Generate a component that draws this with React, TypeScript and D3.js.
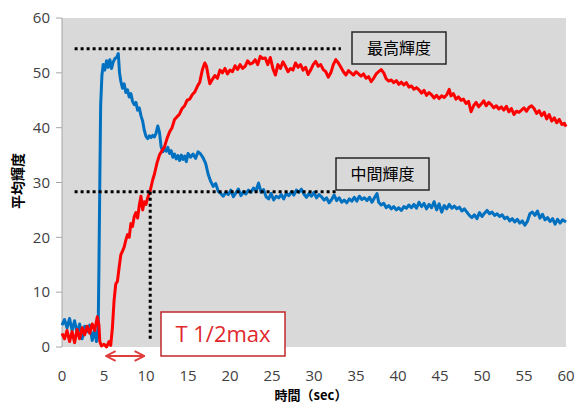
import React from "react";
import * as d3 from "d3";

const W = 577;
const H = 403;

const xTicks = [0, 5, 10, 15, 20, 25, 30, 35, 40, 45, 50, 55, 60];
const yTicks = [0, 10, 20, 30, 40, 50, 60];

const maxLevel = 54.4;
const midLevel = 28.3;
const tHalf = 10.5;
const maxLineEnd = 33.2;
const midLineEnd = 32.7;
const refLineStart = 1.5;

const labelMax = "最高輝度";
const labelMid = "中間輝度";
const labelT = "T 1/2max";
const yTitle = "平均輝度";
const xTitle = "時間（sec）";

const redT = [0,0.3,0.6,0.9,1.2,1.5,1.8,2.1,2.4,2.7,3.0,3.3,3.6,3.9,4.2,4.4,4.5,4.7,5.0,5.3,5.6,5.8,6.0,6.2,6.4,6.6,6.8,7.0,7.2,7.4,7.6,7.8,8.0,8.2,8.4,8.6,8.8,9.0,9.2,9.4,9.6,9.8,10.0,10.2,10.5,10.8,11.0,11.3,11.6,11.9,12.2,12.5,12.8,13.1,13.4,13.7,14.0,14.3,14.6,14.9,15.2,15.5,15.8,16.1,16.4,16.7,17.0,17.2,17.4,17.6,17.9,18.2,18.5,18.8,19.1,19.4,19.7,20.0,20.3,20.6,20.9,21.2,21.5,21.8,22.1,22.4,22.7,23.0,23.3,23.6,23.9,24.2,24.5,24.8,25.1,25.4,25.7,26.0,26.3,26.6,26.9,27.2,27.5,27.8,28.1,28.4,28.7,29.0,29.3,29.6,29.9,30.2,30.5,30.8,31.1,31.4,31.7,32.0,32.3,32.6,32.9,33.2,33.5,33.8,34.1,34.4,34.7,35.0,35.3,35.6,35.9,36.2,36.5,36.8,37.1,37.4,37.7,38.0,38.3,38.6,38.9,39.2,39.5,39.8,40.1,40.4,40.7,41.0,41.3,41.6,41.9,42.2,42.5,42.8,43.1,43.4,43.7,44.0,44.3,44.6,44.9,45.2,45.5,45.8,46.1,46.3,46.6,46.9,47.2,47.5,47.8,48.1,48.4,48.7,49.0,49.3,49.6,49.9,50.2,50.5,50.8,51.1,51.4,51.7,52.0,52.3,52.6,52.9,53.2,53.5,53.8,54.1,54.4,54.7,55.0,55.3,55.6,55.9,56.2,56.5,56.8,57.1,57.4,57.7,58.0,58.3,58.6,58.9,59.2,59.5,59.8,60];
const redV = [2.5,1.5,3.0,1.0,2.8,0.8,3.2,1.5,3.5,2.2,3.8,2.5,4.2,3.0,5.5,4.0,1.0,0.2,0.5,0.0,1.0,0.3,3.5,8.5,11.5,12.0,14.5,16.8,17.5,18.2,19.5,20.5,20.0,22.5,22.0,23.8,24.5,23.5,25.8,27.5,25.0,26.5,26.0,27.2,28.5,30.5,31.5,33.5,35.0,35.8,36.5,38.0,39.2,40.0,41.5,42.0,42.5,43.5,44.0,45.0,45.2,46.0,46.5,47.5,48.3,50.5,51.8,51.2,49.5,48.0,48.8,49.5,49.0,50.5,50.0,50.8,49.8,50.5,50.2,51.3,50.6,51.5,50.8,51.2,52.2,51.6,51.8,52.4,51.5,53.0,52.6,52.7,51.5,52.8,50.8,49.6,51.5,50.8,52.0,51.2,50.2,50.8,50.5,51.8,51.0,51.5,50.5,51.0,49.7,50.5,51.5,52.1,51.2,51.5,50.6,50.2,49.2,50.0,51.5,52.4,51.8,51.0,50.2,49.6,50.4,50.0,49.6,50.2,49.8,49.4,49.8,49.0,49.3,48.4,49.0,49.8,50.2,50.6,50.0,48.9,48.5,48.7,48.2,48.6,47.9,48.3,47.8,48.2,47.4,47.6,47.0,47.3,46.9,46.3,46.8,45.9,46.4,46.0,45.4,45.9,45.3,45.8,45.5,46.0,47.0,45.8,46.2,45.2,45.6,45.0,45.2,44.4,44.8,42.9,44.0,44.6,43.8,44.3,44.9,44.0,44.6,44.2,43.6,44.0,43.4,43.8,43.2,43.9,42.9,43.5,42.4,43.0,42.8,43.2,43.6,43.0,43.7,44.0,43.5,42.6,43.1,42.2,42.8,41.6,42.4,41.2,41.8,40.9,41.5,40.6,40.8,40.2];

const blueT = [0,0.3,0.6,0.9,1.2,1.5,1.8,2.1,2.4,2.7,3.0,3.3,3.6,3.9,4.1,4.3,4.4,4.5,4.6,4.75,4.9,5.1,5.3,5.5,5.7,5.9,6.1,6.3,6.5,6.7,6.85,7.0,7.2,7.4,7.6,7.8,8.0,8.2,8.4,8.6,8.8,9.0,9.2,9.4,9.6,9.8,10.0,10.2,10.4,10.6,10.8,11.0,11.2,11.4,11.6,11.8,12.0,12.2,12.4,12.6,12.8,13.0,13.2,13.4,13.6,13.8,14.0,14.2,14.4,14.6,14.8,15.0,15.3,15.6,15.9,16.2,16.5,16.8,17.1,17.4,17.7,18.0,18.3,18.6,18.9,19.2,19.5,19.8,20.1,20.4,20.7,21.0,21.3,21.6,21.9,22.2,22.5,22.8,23.1,23.4,23.7,24.0,24.3,24.6,24.9,25.2,25.5,25.8,26.1,26.4,26.7,27.0,27.3,27.6,27.9,28.2,28.5,28.8,29.1,29.4,29.7,30.0,30.3,30.6,30.9,31.2,31.5,31.8,32.1,32.4,32.7,33.0,33.3,33.6,33.9,34.2,34.5,34.8,35.1,35.4,35.7,36.0,36.3,36.6,36.9,37.2,37.5,37.7,38.0,38.3,38.6,38.9,39.2,39.5,39.8,40.1,40.4,40.7,41.0,41.3,41.6,41.9,42.2,42.5,42.8,43.1,43.4,43.7,44.0,44.3,44.6,44.9,45.2,45.5,45.8,46.1,46.4,46.7,47.0,47.3,47.6,47.9,48.2,48.5,48.8,49.1,49.4,49.7,50.0,50.3,50.6,50.9,51.2,51.5,51.8,52.1,52.4,52.7,53.0,53.3,53.6,53.9,54.2,54.5,54.8,55.1,55.4,55.7,56.0,56.3,56.6,56.9,57.2,57.5,57.8,58.1,58.4,58.7,59.0,59.3,59.6,60];
const blueV = [4.0,5.0,3.5,5.2,3.0,4.8,2.5,4.2,1.5,3.8,2.8,4.0,1.2,3.2,1.0,2.5,15,30,44,49.5,51.5,50.5,52.2,51.0,52.4,50.8,52.0,52.6,52.8,53.5,50,48.5,47.2,48.0,46.4,46.9,45.6,46.2,44.8,44.2,44.6,43.2,43.6,42.2,41.2,39.5,38.4,38.0,38.5,38.2,38.6,38.3,39.0,40.3,39.2,36.5,35.6,36.2,35.7,36.4,35.3,35.8,34.6,35.2,34.3,34.9,34.0,35.0,34.2,34.8,33.8,35.3,34.6,35.2,34.4,35.6,35.2,34.5,33.5,31.5,30.2,29.3,29.8,28.4,28.0,27.5,28.2,27.8,28.6,27.4,28.1,28.8,27.6,28.3,27.9,28.6,28.2,29.0,28.5,29.9,28.2,28.7,27.4,27.0,28.0,26.8,27.5,27.2,27.8,27.0,28.0,27.6,28.3,27.7,28.6,28.2,28.8,27.9,27.3,28.0,27.5,28.2,27.2,27.8,27.4,26.8,27.2,26.3,26.9,27.7,26.7,27.2,26.4,26.8,26.3,27.0,26.6,27.3,26.6,27.5,26.9,27.2,26.7,27.3,26.4,27.2,28.0,26.4,25.9,26.2,25.4,25.8,25.2,25.6,25.0,25.4,24.9,25.6,25.3,25.9,25.4,26.0,25.3,26.4,25.6,26.2,25.2,26.0,25.4,26.5,25.0,26.1,24.6,25.8,25.2,26.0,25.3,25.7,25.2,25.5,24.8,25.2,24.6,24.0,23.6,24.1,23.4,24.5,23.8,24.4,24.9,24.3,24.6,24.0,24.3,23.8,24.1,23.4,23.7,23.0,23.4,22.8,23.3,22.6,23.0,22.2,22.9,24.3,24.6,24.0,24.8,23.5,24.2,23.2,23.6,22.9,23.4,22.4,23.3,22.6,23.2,22.8];

export default function App() {
  const x = d3.scaleLinear().domain([0, 60]).range([62, 566]);
  const y = d3.scaleLinear().domain([0, 60]).range([347, 18]);
  const line = d3
    .line<[number, number]>()
    .x((d) => x(d[0]))
    .y((d) => y(d[1]));
  const red: [number, number][] = redT.map((t, i) => [t, redV[i]]);
  const blue: [number, number][] = blueT.map((t, i) => [t, blueV[i]]);
  const tickFont = "'Open Sans', 'DejaVu Sans', sans-serif";
  const jpFont = "'Noto Sans CJK JP', sans-serif";
  const arrowY = 356;
  return (
    <svg
      width={W}
      height={H}
      style={{ position: "absolute", left: 0, top: 0, background: "#fff" }}
    >
      <defs>
        <marker id="ah" viewBox="0 0 10 10" refX="9" refY="5" markerWidth="6" markerHeight="6" orient="auto-start-reverse">
          <path d="M1,1 L9,5 L1,9" fill="none" stroke="#e03c3c" strokeWidth="1.6" />
        </marker>
      </defs>
      <rect x={x(0)} y={y(60)} width={x(60) - x(0)} height={y(0) - y(60)} fill="#d9d9d9" />
      <line x1={x(0)} x2={x(0)} y1={y(60)} y2={y(0)} stroke="#a6a6a6" strokeWidth={1} />
      {yTicks.map((t) => (
        <g key={"y" + t}>
          <line x1={x(0) - 6} x2={x(0)} y1={y(t)} y2={y(t)} stroke="#a6a6a6" />
          <text x={x(0) - 12} y={y(t)} dy="0.35em" textAnchor="end" fontSize={15} fill="#404040" fontFamily={tickFont}>
            {t}
          </text>
        </g>
      ))}
      {xTicks.map((t) => (
        <text key={"x" + t} x={x(t)} y={381} textAnchor="middle" fontSize={15} fill="#404040" fontFamily={tickFont}>
          {t}
        </text>
      ))}
      <path d={line(blue) || ""} fill="none" stroke="#0070c0" strokeWidth={3} strokeLinejoin="round" />
      <path d={line(red) || ""} fill="none" stroke="#ff0000" strokeWidth={3} strokeLinejoin="round" />
      <line x1={x(refLineStart)} x2={x(maxLineEnd)} y1={y(maxLevel)} y2={y(maxLevel)} stroke="#000" strokeWidth={3} strokeDasharray="3 3" />
      <line x1={x(refLineStart)} x2={x(midLineEnd)} y1={y(midLevel)} y2={y(midLevel)} stroke="#000" strokeWidth={3} strokeDasharray="3 3" />
      <line x1={x(tHalf)} x2={x(tHalf)} y1={y(midLevel)} y2={y(1)} stroke="#000" strokeWidth={3} strokeDasharray="3 3" />
      <rect x={352} y={32} width={94} height={32} fill="none" stroke="#262626" strokeWidth={1.5} />
      <text x={399} y={48} dy="0.35em" textAnchor="middle" fontSize={16} fill="#000" fontFamily={jpFont}>
        {labelMax}
      </text>
      <rect x={336} y={158} width={93} height={32} fill="none" stroke="#262626" strokeWidth={1.5} />
      <text x={382.5} y={174} dy="0.35em" textAnchor="middle" fontSize={16} fill="#000" fontFamily={jpFont}>
        {labelMid}
      </text>
      <rect x={161} y={312} width={124} height={44} fill="#fff" stroke="#c0282d" strokeWidth={1.5} />
      <text x={223} y={334} dy="0.36em" textAnchor="middle" fontSize={22} fill="#e0282d" fontFamily={tickFont}>
        {labelT}
      </text>
      <line x1={x(5) + 2} x2={x(tHalf) - 6} y1={arrowY} y2={arrowY} stroke="#e03c3c" strokeWidth={2} markerStart="url(#ah)" markerEnd="url(#ah)" />
      <text transform={`translate(18,181) rotate(-90)`} textAnchor="middle" dy="0.35em" fontSize={14} fontWeight="bold" fill="#000" fontFamily={jpFont}>
        {yTitle}
      </text>
      <text x={311} y={400} textAnchor="middle" fontSize={13} fontWeight="bold" fill="#000" fontFamily={jpFont}>
        {xTitle}
      </text>
    </svg>
  );
}
